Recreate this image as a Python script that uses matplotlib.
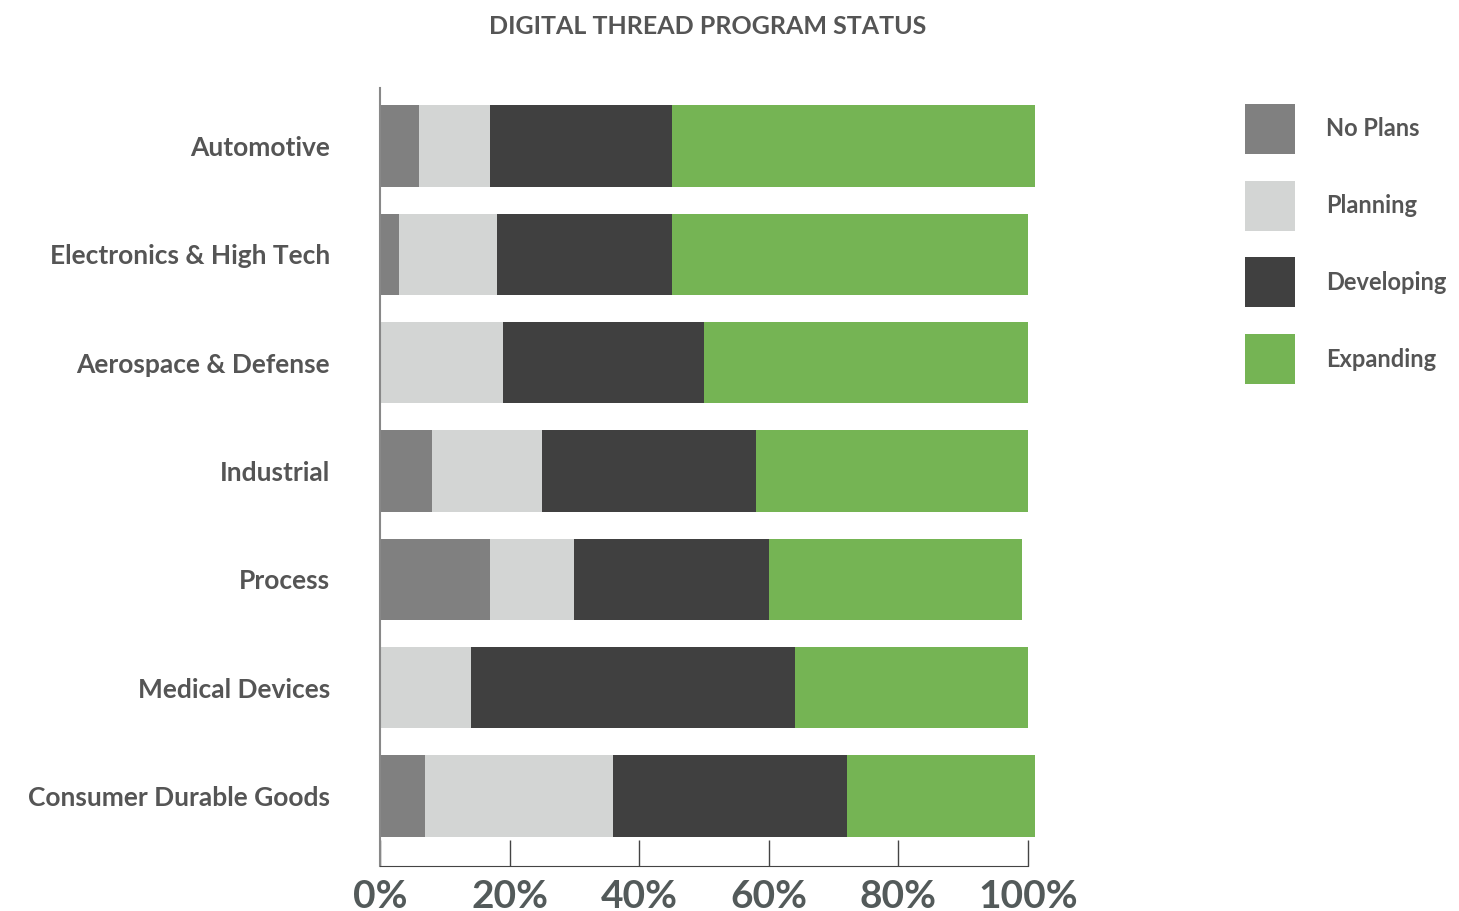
import numpy as np
import matplotlib
matplotlib.use("Agg")
import matplotlib.pyplot as plt
from matplotlib.patches import Rectangle

plt.rcParams['font.family'] = ['Lato', 'DejaVu Sans']

categories = ["Automotive", "Electronics & High Tech", "Aerospace & Defense",
              "Industrial", "Process", "Medical Devices", "Consumer Durable Goods"]
no_plans = [6, 3, 0, 8, 17, 0, 7]
planning = [11, 15, 19, 17, 13, 14, 29]
developing = [28, 27, 31, 33, 30, 50, 36]
expanding = [56, 55, 50, 42, 39, 36, 29]

series = ["No Plans", "Planning", "Developing", "Expanding"]
colors = ["#808080", "#d3d5d4", "#404040", "#75b454"]
xticks = [0, 20, 40, 60, 80, 100]

txt = "#555555"
W, H = 1459, 911

fig = plt.figure(figsize=(W / 100, H / 100), dpi=100)
ax = fig.add_axes([380 / W, 1 - 866 / H, (1041 - 380) / W, (866 - 88) / H])

y = np.arange(len(categories))
left = np.zeros(len(categories))
for name, vals, c in zip(series, [no_plans, planning, developing, expanding], colors):
    ax.barh(y, vals, left=left, height=0.75, color=c, label=name, linewidth=0)
    left += np.array(vals)

ax.set_xlim(0, 102)
ax.set_ylim(len(categories) - 1 + 0.646, -0.535)
ax.set_yticks(y)
ax.set_yticklabels(categories, fontsize=19, fontweight="bold", color=txt)
ax.tick_params(axis="y", length=0, pad=36)
ax.set_xticks(xticks)
ax.set_xticklabels([f"{t}%" for t in xticks], fontsize=28, fontweight="bold", color="#535a5a")
ax.tick_params(axis="x", direction="in", length=19, width=1, color="#444444", pad=9)

for s in ["top", "right"]:
    ax.spines[s].set_visible(False)
ax.spines["bottom"].set_bounds(0, 100)
ax.spines["bottom"].set_color("#444444")
ax.spines["left"].set_color("#888888")
ax.spines["left"].set_linewidth(1.5)

fig.text(708 / W, 1 - 27 / H, "DIGITAL THREAD PROGRAM STATUS", ha="center", va="center",
         fontsize=18, fontweight="bold", color=txt)

# legend: squares with labels on the right
for i, (name, c) in enumerate(zip(series, colors)):
    top = 104 + i * 76.7
    fig.patches.append(Rectangle((1245 / W, 1 - (top + 50) / H), 50 / W, 50 / H,
                                 transform=fig.transFigure, color=c, lw=0))
    fig.text(1326 / W, 1 - (top + 25) / H, name, ha="left", va="center",
             fontsize=17, fontweight="bold", color=txt)

fig.savefig("out.png", dpi=100)
